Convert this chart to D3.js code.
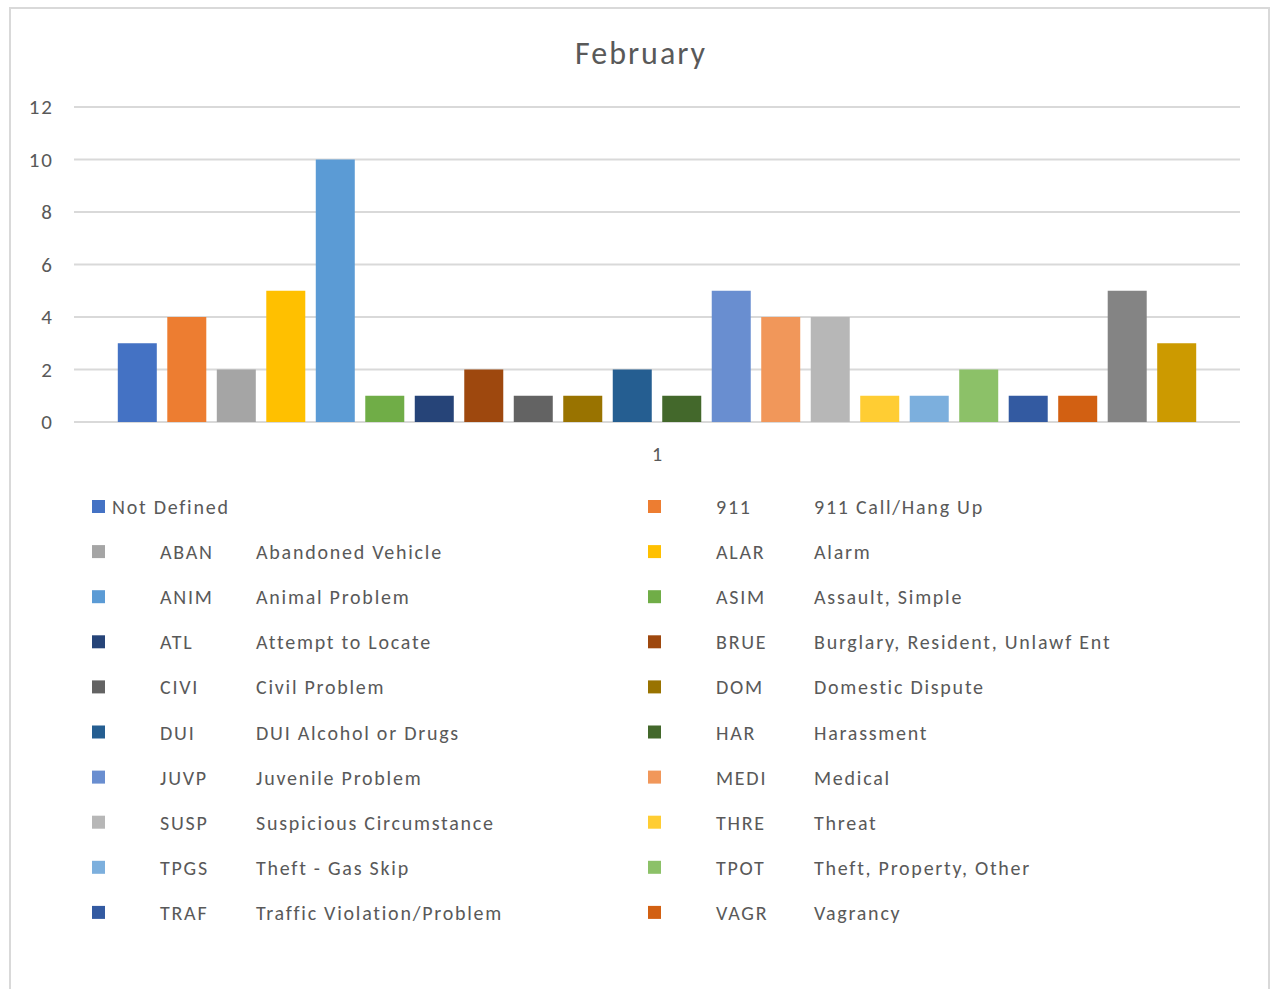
<!DOCTYPE html>
<html>
<head>
<meta charset="utf-8">
<script src="https://cdn.jsdelivr.net/npm/d3@7"></script>
<style>
  body { margin: 0; background: #fff; }
  svg text { font-family: Carlito, Calibri, Lato, sans-serif; fill: #595959; }
</style>
</head>
<body>
<svg id="Canvas" width="1278" height="989"></svg>
<script>
// category on the x axis (only one)
var categories = ["1"];

// series codes, descriptions and counts for February
var codes = ["", "911", "ABAN", "ALAR", "ANIM", "ASIM", "ATL", "BRUE", "CIVI", "DOM", "DUI",
             "HAR", "JUVP", "MEDI", "SUSP", "THRE", "TPGS", "TPOT", "TRAF", "VAGR", "S21", "S22"];
var descriptions = ["Not Defined", "911 Call/Hang Up", "Abandoned Vehicle", "Alarm", "Animal Problem",
             "Assault, Simple", "Attempt to Locate", "Burglary, Resident, Unlawf Ent", "Civil Problem",
             "Domestic Dispute", "DUI Alcohol or Drugs", "Harassment", "Juvenile Problem", "Medical",
             "Suspicious Circumstance", "Threat", "Theft - Gas Skip", "Theft, Property, Other",
             "Traffic Violation/Problem", "Vagrancy", "", ""];
var values = [3, 4, 2, 5, 10, 1, 1, 2, 1, 1, 2, 1, 5, 4, 4, 1, 1, 2, 1, 1, 5, 3];
var yTicks = [0, 2, 4, 6, 8, 10, 12];

// excel office palette
var colors = ["#4472C4", "#ED7D31", "#A5A5A5", "#FFC000", "#5B9BD5", "#70AD47",
              "#264478", "#9E480E", "#636363", "#997300", "#255E91", "#43682B",
              "#698ED0", "#F1975A", "#B7B7B7", "#FFCD33", "#7CAFDD", "#8CC168",
              "#335AA1", "#D26012", "#848484", "#CC9A00"];

var legendShown = 20; // legend gets cut off after 20 entries

var svg = d3.select("#Canvas");

// chart border
svg.append("rect")
  .attr("x", 10).attr("y", 8)
  .attr("width", 1259).attr("height", 1000)
  .attr("fill", "#fff")
  .attr("stroke", "#D9D9D9").attr("stroke-width", 2);

// title
svg.append("text")
  .attr("x", 641).attr("y", 64)
  .attr("text-anchor", "middle")
  .style("font-size", "32px")
  .style("letter-spacing", "2px")
  .text("February");

var plot = {left: 74, right: 1240, top: 107, bottom: 422};

var y = d3.scaleLinear().domain([0, 12]).range([plot.bottom, plot.top]);

var x0 = d3.scaleBand().domain(categories)
  .range([plot.left, plot.right]).paddingOuter(0.0354);

var x1 = d3.scaleBand().domain(d3.range(values.length))
  .range([0, x0.bandwidth()]).paddingInner(0.212).paddingOuter(0.106);

// gridlines
svg.append("g").selectAll("line").data(yTicks).enter()
  .append("line")
  .attr("x1", plot.left).attr("x2", plot.right)
  .attr("y1", function(d){ return y(d); })
  .attr("y2", function(d){ return y(d); })
  .attr("stroke", "#D9D9D9").attr("stroke-width", 2);

// y axis labels
var yAxis = svg.append("g")
  .attr("transform", "translate(54,0)")
  .call(d3.axisLeft(y).tickValues(yTicks).tickSize(0).tickPadding(0));
yAxis.select(".domain").remove();
yAxis.selectAll("text")
  .style("font-size", "21px")
  .style("letter-spacing", "2px")
  .style("fill", "#595959")
  .attr("font-family", null);

// bars
svg.append("g").selectAll("rect").data(values).enter()
  .append("rect")
  .attr("x", function(d, i){ return x0(categories[0]) + x1(i); })
  .attr("y", function(d){ return y(d); })
  .attr("width", x1.bandwidth())
  .attr("height", function(d){ return y(0) - y(d); })
  .style("fill", function(d, i){ return colors[i]; });

// x axis label
var xAxis = svg.append("g")
  .attr("transform", "translate(0,447)")
  .call(d3.axisBottom(x0).tickSize(0).tickPadding(0));
xAxis.select(".domain").remove();
xAxis.selectAll("text")
  .attr("dy", "0.72em")
  .style("font-size", "20px")
  .style("fill", "#595959")
  .attr("font-family", null);

// legend, two columns
var legendItems = d3.range(legendShown).map(function(i){
  return {code: codes[i], desc: descriptions[i], color: colors[i], col: i % 2, row: Math.floor(i / 2)};
});

var legend = svg.append("g").selectAll("g").data(legendItems).enter()
  .append("g")
  .attr("transform", function(d){
    return "translate(" + (d.col ? 648 : 92) + "," + (500 + d.row * 45.1) + ")";
  });

legend.append("rect")
  .attr("width", 13).attr("height", 13)
  .style("fill", function(d){ return d.color; });

legend.append("text")
  .attr("x", function(d){ return d.code ? 68 : 20; })
  .attr("y", 14)
  .style("font-size", "20px")
  .style("letter-spacing", "1.75px")
  .text(function(d){ return d.code ? d.code : d.desc; });

legend.filter(function(d){ return d.code; }).append("text")
  .attr("x", function(d){ return d.col ? 166 : 164; })
  .attr("y", 14)
  .style("font-size", "20px")
  .style("letter-spacing", "1.75px")
  .text(function(d){ return d.desc; });
</script>
</body>
</html>
